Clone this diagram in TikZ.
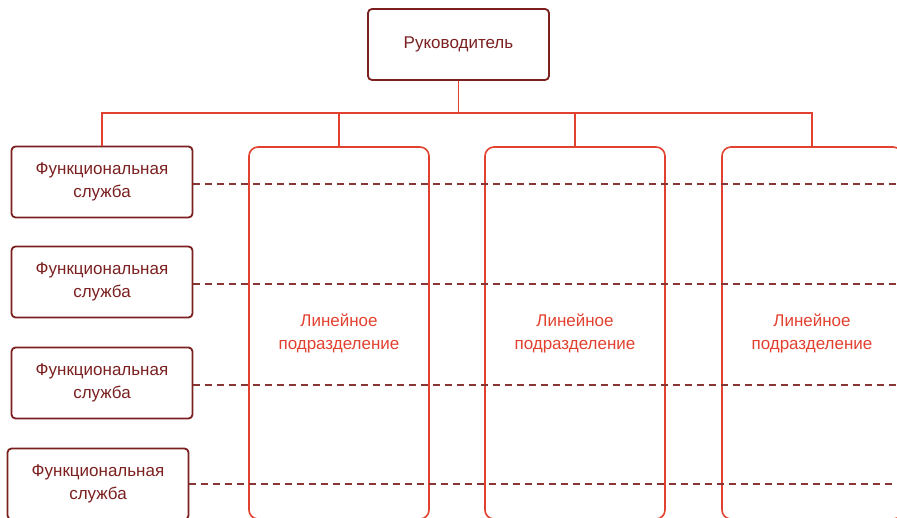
\documentclass[tikz,border=0pt]{standalone}
\usepackage{fontspec}
\setmainfont{Liberation Sans}
\usetikzlibrary{calc}
\definecolor{darkwine}{HTML}{7B1F1F}
\definecolor{brickred}{HTML}{E2412F}
\tikzset{
  chiefbox/.style={draw=darkwine, line width=1.8pt, rounded corners=4pt, minimum width=181pt, minimum height=71pt, inner sep=0pt, text=darkwine, font=\fontsize{17}{23}\selectfont, align=center},
  funcbox/.style={chiefbox},
  linebox/.style={draw=brickred, line width=1.6pt, rounded corners=9pt, minimum width=180pt, minimum height=372pt, inner sep=0pt, text=brickred, font=\fontsize{17}{23}\selectfont, align=center},
  tie/.style={draw=brickred, line width=1.3pt},
  staff/.style={draw=darkwine!90, line width=1.8pt, dash pattern=on 7pt off 5pt}
}

\begin{document}
\begin{tikzpicture}[x=1pt, y=-1pt]
		%%%%% START %%%%%
		\useasboundingbox (0, 0) rectangle (897, 518);
		\clip (0, 0) rectangle (897, 518);
		
		\node[chiefbox] (chief) at (458.5, 44.5) {Руководитель};
		
		\node[funcbox] (f1) at (102, 182) {Функциональная\\служба};
		\node[funcbox] (f2) at (102, 282) {Функциональная\\служба};
		\node[funcbox] (f3) at (102, 383) {Функциональная\\служба};
		\node[funcbox] (f4) at (98, 484) {Функциональная\\служба};
		
		\node[linebox] (l1) at (339, 333) {Линейное\\подразделение};
		\node[linebox] (l2) at (575, 333) {Линейное\\подразделение};
		\node[linebox] (l3) at (812, 333) {Линейное\\подразделение};
		
		\coordinate (bus) at (458.5, 113);
		\coordinate (edge) at (897, 2);
		
		\draw[tie] (chief.south) -- (bus);
		\draw[tie] (f1.north) |- (bus) -| (l3.north);
		\draw[tie] (l1.north) -- (l1.north |- bus);
		\draw[tie] (l2.north) -- (l2.north |- bus);
		
		\draw[staff] ($(f1.east) + (0, 2)$) -- ($(f1.east -| edge) + (0, 2)$);
		\draw[staff] ($(f2.east) + (0, 2)$) -- ($(f2.east -| edge) + (0, 2)$);
		\draw[staff] ($(f3.east) + (0, 2)$) -- ($(f3.east -| edge) + (0, 2)$);
		\draw[staff] (f4.east) -- (f4.east -| edge);
		
		%%%%% END %%%%%
	\end{tikzpicture}
\end{document}
